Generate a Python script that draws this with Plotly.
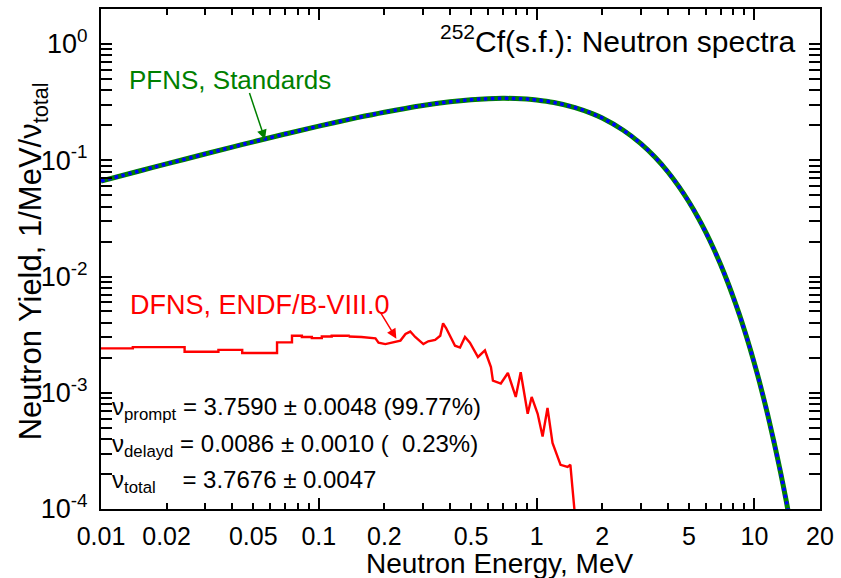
import math
import plotly.graph_objects as go

# ---------------- data ----------------
pfns_energy = [0.01, 0.015, 0.02, 0.03, 0.04, 0.05, 0.07, 0.1, 0.15, 0.2, 0.3, 0.4, 0.5,
               0.6, 0.7, 0.8, 0.9, 1.0, 1.2, 1.5, 1.8, 2.0, 2.5, 3.0, 3.5, 4.0, 4.5, 5.0,
               5.5, 6.0, 6.5, 7.0, 7.5, 8.0, 8.5, 9.0, 9.5, 10.0, 10.5, 11.0, 11.5, 12.0,
               12.5, 13.0, 13.5, 14.0, 14.5]
pfns_yield = [0.0662, 0.0808, 0.0930, 0.1131, 0.1297, 0.1440, 0.1680, 0.1965, 0.2324, 0.2590,
              0.2957, 0.3182, 0.3316, 0.3385, 0.3408, 0.3396, 0.3357, 0.3298, 0.3138, 0.2840,
              0.2519, 0.2307, 0.1813, 0.1397, 0.1061, 0.0797, 0.0593, 0.0439, 0.0323, 0.0237,
              0.0173, 0.0126, 0.00915, 0.00662, 0.00479, 0.00345, 0.00248, 0.00178, 0.00128,
              0.00091, 0.00065, 0.00046, 0.000328, 0.000233, 0.000166, 0.000117, 0.000082]

# DFNS, low-energy histogram part (bin start energy, value)
dfns_step_energy = [0.01, 0.0140, 0.0242, 0.0346, 0.0445, 0.0643, 0.0753, 0.0836, 0.0929,
                    0.1032, 0.1146, 0.137]
dfns_step_yield = [0.00241, 0.00247, 0.00225, 0.00234, 0.00220, 0.00271, 0.00309, 0.00302,
                   0.00295, 0.00305, 0.00309, 0.00305]
# DFNS, finely binned part
dfns_fine_energy = [0.137, 0.157, 0.182, 0.188, 0.202, 0.220, 0.237, 0.250, 0.263, 0.277,
                    0.302, 0.318, 0.342, 0.361, 0.372, 0.384, 0.401, 0.422, 0.445, 0.469, 0.494,
                    0.521, 0.538, 0.579, 0.617, 0.630, 0.685, 0.738, 0.777, 0.802, 0.845, 0.881,
                    0.910, 0.949, 1.011, 1.065, 1.122, 1.183, 1.247, 1.288, 1.387, 1.429, 1.459,
                    1.507]
dfns_fine_yield = [0.00305, 0.00302, 0.00294, 0.00270, 0.00262, 0.00270, 0.00281,
                   0.00320, 0.00336, 0.00302, 0.00262, 0.00277, 0.00285, 0.00309, 0.00396, 0.00360,
                   0.00302, 0.00254, 0.00245, 0.00302, 0.00270, 0.00222, 0.00203, 0.00231, 0.00166,
                   0.00127, 0.00120, 0.00148, 0.00113, 0.00092, 0.00150, 0.00092, 0.00066, 0.00092,
                   0.00066, 0.00042, 0.00074, 0.00037, 0.00028, 0.00024, 0.00023, 0.00024, 0.000155,
                   0.00008]

x_tick_values = [0.01, 0.02, 0.05, 0.1, 0.2, 0.5, 1, 2, 5, 10, 20]
x_tick_labels = ["0.01", "0.02", "0.05", "0.1", "0.2", "0.5", "1", "2", "5", "10", "20"]
x_decades = [0.01, 0.1, 1, 10]
y_tick_values = [1e-4, 1e-3, 1e-2, 1e-1, 1]
y_tick_labels = ["10<sup>-4</sup>", "10<sup>-3</sup>", "10<sup>-2</sup>",
                 "10<sup>-1</sup>", "10<sup>0</sup>"]
x_range = [0.01, 20]
y_range = [1e-4, 2]

x_minor = [m * 10.0 ** d for d in range(-2, 2) for m in range(2, 10) if m * 10.0 ** d <= 20]
y_minor = [m * 10.0 ** d for d in range(-4, 1) for m in range(2, 10) if m * 10.0 ** d <= 2]

FONT = "Arial, Liberation Sans, sans-serif"

fig = go.Figure()
fig.add_trace(go.Scatter(x=pfns_energy, y=pfns_yield, mode="lines",
                         line=dict(color="#008000", width=5, shape="spline"),
                         showlegend=False))
fig.add_trace(go.Scatter(x=pfns_energy, y=pfns_yield, mode="lines",
                         line=dict(color="#0000ff", width=3.5, dash="dot", shape="spline"),
                         showlegend=False))
fig.add_trace(go.Scatter(x=dfns_step_energy, y=dfns_step_yield, mode="lines",
                         line=dict(color="#ff0000", width=2.4, shape="hv"),
                         showlegend=False))
fig.add_trace(go.Scatter(x=dfns_fine_energy, y=dfns_fine_yield, mode="lines",
                         line=dict(color="#ff0000", width=2.4),
                         showlegend=False))
# invisible trace for the decade-tick overlay axis
fig.add_trace(go.Scatter(x=[x_range[0]], y=[y_range[0]], mode="markers",
                         marker=dict(opacity=0), xaxis="x2", showlegend=False,
                         hoverinfo="skip"))

lx = [math.log10(v) for v in x_range]
ly = [math.log10(v) for v in y_range]

fig.update_layout(
    width=841, height=578,
    margin=dict(l=101, r=17, t=7, b=69),
    paper_bgcolor="white", plot_bgcolor="white",
    font=dict(family=FONT, color="black"),
    xaxis=dict(type="log", range=lx, tickmode="array", tickvals=x_tick_values,
               ticktext=x_tick_labels, ticks="inside", ticklen=6, tickwidth=1.5,
               tickcolor="black", showline=True, linecolor="black", linewidth=2,
               mirror="allticks", showgrid=False, zeroline=False,
               tickfont=dict(size=25, family=FONT), ticklabelstandoff=4,
               minor=dict(tickmode="array", tickvals=x_minor, ticks="inside",
                          ticklen=6, tickwidth=1.5, tickcolor="black", showgrid=False)),
    xaxis2=dict(type="log", range=lx, overlaying="x", anchor="y", side="bottom",
                tickmode="array", tickvals=x_decades, ticks="inside", ticklen=11,
                tickwidth=1.5, tickcolor="black", showticklabels=False,
                showline=True, linecolor="black", linewidth=2, mirror="allticks",
                showgrid=False, zeroline=False),
    yaxis=dict(type="log", range=ly, tickmode="array", tickvals=y_tick_values,
               ticktext=y_tick_labels, ticks="inside", ticklen=11, tickwidth=1.5,
               tickcolor="black", showline=True, linecolor="black", linewidth=2,
               mirror="allticks", showgrid=False, zeroline=False,
               tickfont=dict(size=27, family=FONT), ticklabelstandoff=6,
               minor=dict(tickmode="array", tickvals=y_minor, ticks="inside",
                          ticklen=6, tickwidth=1.5, tickcolor="black", showgrid=False)),
)

def px(xp):
    return (xp - 101) / 723.0

def py(yp):
    return (509 - yp) / 502.0

ann = []
ann.append(dict(text="<sup>252</sup>Cf(s.f.): Neutron spectra", xref="paper", yref="paper",
                x=px(801), y=py(37), xanchor="right", yanchor="middle", showarrow=False,
                font=dict(size=30, color="black", family=FONT)))
ann.append(dict(text="PFNS, Standards", xref="paper", yref="paper",
                x=px(127), y=py(78), xanchor="left", yanchor="middle", showarrow=False,
                font=dict(size=26, color="#008000", family=FONT)))
ann.append(dict(text="DFNS, ENDF/B-VIII.0", xref="paper", yref="paper",
                x=px(128), y=py(304), xanchor="left", yanchor="middle", showarrow=False,
                font=dict(size=27, color="#ff0000", family=FONT)))
# arrows
ann.append(dict(text="", x=math.log10(0.0566), y=math.log10(0.151), xref="x", yref="y",
                showarrow=True, ax=-16, ay=-48, arrowhead=2, arrowsize=1.3, arrowwidth=1.5,
                arrowcolor="#008000", standoff=0, font=dict(size=1)))
ann.append(dict(text="", x=math.log10(0.227), y=math.log10(0.00292), xref="x", yref="y",
                showarrow=True, ax=-17, ay=-28, arrowhead=2, arrowsize=1.3, arrowwidth=1.5,
                arrowcolor="#ff0000", standoff=0, font=dict(size=1)))
nb = "\u00a0"
lines = [
    ("\u03bd<sub>prompt</sub> = 3.7590 \u00b1 0.0048 (99.77%)", 408),
    ("\u03bd<sub>delayd</sub> = 0.0086 \u00b1 0.0010 (" + nb + nb + "0.23%)", 445),
    ("\u03bd<sub>total</sub>" + nb * 3 + " = 3.7676 \u00b1 0.0047", 481),
]
for t, yp in lines:
    ann.append(dict(text=t, xref="paper", yref="paper", x=px(110), y=py(yp),
                    xanchor="left", yanchor="middle", showarrow=False,
                    font=dict(size=24, color="black", family=FONT)))
# axis titles
ann.append(dict(text="Neutron Energy, MeV", xref="paper", yref="paper",
                x=px(502), y=py(564), xanchor="center", yanchor="middle", showarrow=False,
                font=dict(size=28, color="black", family=FONT)))
ann.append(dict(text="Neutron Yield, 1/MeV/\u03bd<sub>total</sub>", xref="paper", yref="paper",
                x=px(33), y=py(260), xanchor="center", yanchor="middle", showarrow=False,
                textangle=-90, font=dict(size=31, color="black", family=FONT)))
fig.update_layout(annotations=ann)

fig.write_html("out.html")
